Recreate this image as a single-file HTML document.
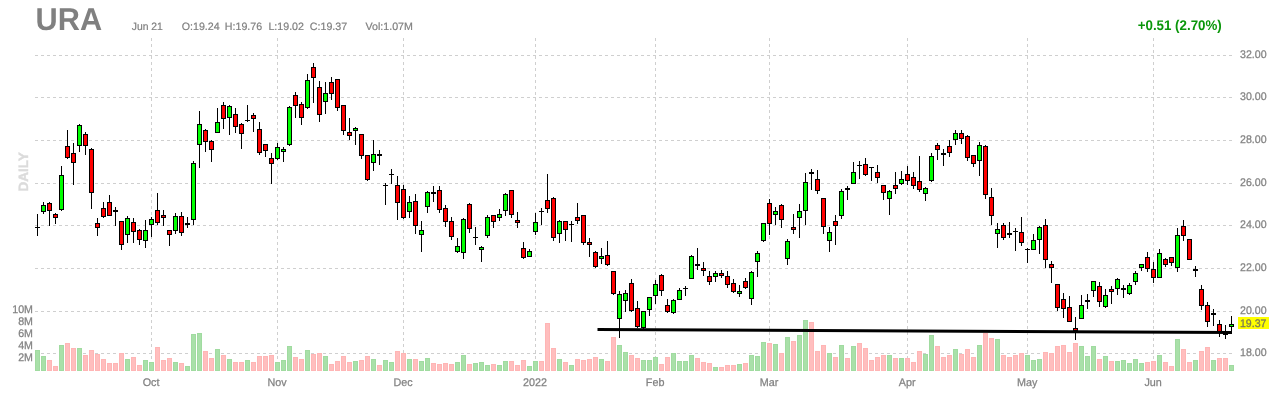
<!DOCTYPE html>
<html lang="en"><head><meta charset="utf-8"><title>URA Daily Chart</title>
<style>html,body{margin:0;padding:0;background:#fff}body{width:1280px;height:400px;overflow:hidden}svg{display:block}</style>
</head><body>
<svg width="1280" height="400" viewBox="0 0 1280 400" shape-rendering="crispEdges">
<rect width="1280" height="400" fill="#fff"/>
<g stroke="#cfcfcf" stroke-width="1" stroke-dasharray="3 3" fill="none">
<path d="M35 55.5H1233"/>
<path d="M35 97.5H1233"/>
<path d="M35 140.5H1233"/>
<path d="M35 183.5H1233"/>
<path d="M35 225.5H1233"/>
<path d="M35 268.5H1233"/>
<path d="M35 311.5H1233"/>
<path d="M35 353.5H1233"/>
<path d="M151.5 38V371"/>
<path d="M277.5 38V371"/>
<path d="M403.5 38V371"/>
<path d="M535.5 38V371"/>
<path d="M655.5 38V371"/>
<path d="M769.5 38V371"/>
<path d="M907.5 38V371"/>
<path d="M1027.5 38V371"/>
<path d="M1153.5 38V371"/>
</g>
<g>
<rect x="35" y="350" width="5" height="21" fill="#a0dba0"/>
<rect x="36" y="351" width="3" height="19" fill="#a9e0a9"/>
<rect x="41" y="356" width="5" height="15" fill="#a0dba0"/>
<rect x="42" y="357" width="3" height="13" fill="#a9e0a9"/>
<rect x="47" y="360" width="5" height="11" fill="#ffb5b5"/>
<rect x="48" y="361" width="3" height="9" fill="#ffbebe"/>
<rect x="53" y="366" width="5" height="5" fill="#ffb5b5"/>
<rect x="54" y="367" width="3" height="3" fill="#ffbebe"/>
<rect x="59" y="345" width="5" height="26" fill="#a0dba0"/>
<rect x="60" y="346" width="3" height="24" fill="#a9e0a9"/>
<rect x="65" y="343" width="5" height="28" fill="#ffb5b5"/>
<rect x="66" y="344" width="3" height="26" fill="#ffbebe"/>
<rect x="71" y="348" width="5" height="23" fill="#ffb5b5"/>
<rect x="72" y="349" width="3" height="21" fill="#ffbebe"/>
<rect x="77" y="348" width="5" height="23" fill="#a0dba0"/>
<rect x="78" y="349" width="3" height="21" fill="#a9e0a9"/>
<rect x="83" y="355" width="5" height="16" fill="#ffb5b5"/>
<rect x="84" y="356" width="3" height="14" fill="#ffbebe"/>
<rect x="89" y="350" width="5" height="21" fill="#ffb5b5"/>
<rect x="90" y="351" width="3" height="19" fill="#ffbebe"/>
<rect x="95" y="354" width="5" height="17" fill="#ffb5b5"/>
<rect x="96" y="355" width="3" height="15" fill="#ffbebe"/>
<rect x="101" y="359" width="5" height="12" fill="#ffb5b5"/>
<rect x="102" y="360" width="3" height="10" fill="#ffbebe"/>
<rect x="107" y="363" width="5" height="8" fill="#ffb5b5"/>
<rect x="108" y="364" width="3" height="6" fill="#ffbebe"/>
<rect x="113" y="363" width="5" height="8" fill="#ffb5b5"/>
<rect x="114" y="364" width="3" height="6" fill="#ffbebe"/>
<rect x="119" y="353" width="5" height="18" fill="#ffb5b5"/>
<rect x="120" y="354" width="3" height="16" fill="#ffbebe"/>
<rect x="125" y="359" width="5" height="12" fill="#a0dba0"/>
<rect x="126" y="360" width="3" height="10" fill="#a9e0a9"/>
<rect x="131" y="357" width="5" height="14" fill="#ffb5b5"/>
<rect x="132" y="358" width="3" height="12" fill="#ffbebe"/>
<rect x="137" y="365" width="5" height="6" fill="#ffb5b5"/>
<rect x="138" y="366" width="3" height="4" fill="#ffbebe"/>
<rect x="143" y="360" width="5" height="11" fill="#a0dba0"/>
<rect x="144" y="361" width="3" height="9" fill="#a9e0a9"/>
<rect x="149" y="362" width="5" height="9" fill="#a0dba0"/>
<rect x="150" y="363" width="3" height="7" fill="#a9e0a9"/>
<rect x="155" y="347" width="5" height="24" fill="#ffb5b5"/>
<rect x="156" y="348" width="3" height="22" fill="#ffbebe"/>
<rect x="161" y="360" width="5" height="11" fill="#ffb5b5"/>
<rect x="162" y="361" width="3" height="9" fill="#ffbebe"/>
<rect x="167" y="358" width="5" height="13" fill="#ffb5b5"/>
<rect x="168" y="359" width="3" height="11" fill="#ffbebe"/>
<rect x="173" y="362" width="5" height="9" fill="#a0dba0"/>
<rect x="174" y="363" width="3" height="7" fill="#a9e0a9"/>
<rect x="179" y="363" width="5" height="8" fill="#ffb5b5"/>
<rect x="180" y="364" width="3" height="6" fill="#ffbebe"/>
<rect x="185" y="366" width="5" height="5" fill="#a0dba0"/>
<rect x="186" y="367" width="3" height="3" fill="#a9e0a9"/>
<rect x="191" y="334" width="5" height="37" fill="#a0dba0"/>
<rect x="192" y="335" width="3" height="35" fill="#a9e0a9"/>
<rect x="197" y="333" width="5" height="38" fill="#a0dba0"/>
<rect x="198" y="334" width="3" height="36" fill="#a9e0a9"/>
<rect x="203" y="351" width="5" height="20" fill="#ffb5b5"/>
<rect x="204" y="352" width="3" height="18" fill="#ffbebe"/>
<rect x="209" y="358" width="5" height="13" fill="#ffb5b5"/>
<rect x="210" y="359" width="3" height="11" fill="#ffbebe"/>
<rect x="215" y="349" width="5" height="22" fill="#a0dba0"/>
<rect x="216" y="350" width="3" height="20" fill="#a9e0a9"/>
<rect x="221" y="355" width="5" height="16" fill="#ffb5b5"/>
<rect x="222" y="356" width="3" height="14" fill="#ffbebe"/>
<rect x="227" y="359" width="5" height="12" fill="#a0dba0"/>
<rect x="228" y="360" width="3" height="10" fill="#a9e0a9"/>
<rect x="233" y="362" width="5" height="9" fill="#ffb5b5"/>
<rect x="234" y="363" width="3" height="7" fill="#ffbebe"/>
<rect x="239" y="362" width="5" height="9" fill="#ffb5b5"/>
<rect x="240" y="363" width="3" height="7" fill="#ffbebe"/>
<rect x="245" y="360" width="5" height="11" fill="#a0dba0"/>
<rect x="246" y="361" width="3" height="9" fill="#a9e0a9"/>
<rect x="251" y="362" width="5" height="9" fill="#ffb5b5"/>
<rect x="252" y="363" width="3" height="7" fill="#ffbebe"/>
<rect x="257" y="356" width="5" height="15" fill="#ffb5b5"/>
<rect x="258" y="357" width="3" height="13" fill="#ffbebe"/>
<rect x="263" y="356" width="5" height="15" fill="#ffb5b5"/>
<rect x="264" y="357" width="3" height="13" fill="#ffbebe"/>
<rect x="269" y="355" width="5" height="16" fill="#ffb5b5"/>
<rect x="270" y="356" width="3" height="14" fill="#ffbebe"/>
<rect x="275" y="362" width="5" height="9" fill="#a0dba0"/>
<rect x="276" y="363" width="3" height="7" fill="#a9e0a9"/>
<rect x="281" y="360" width="5" height="11" fill="#a0dba0"/>
<rect x="282" y="361" width="3" height="9" fill="#a9e0a9"/>
<rect x="287" y="346" width="5" height="25" fill="#a0dba0"/>
<rect x="288" y="347" width="3" height="23" fill="#a9e0a9"/>
<rect x="293" y="357" width="5" height="14" fill="#ffb5b5"/>
<rect x="294" y="358" width="3" height="12" fill="#ffbebe"/>
<rect x="299" y="359" width="5" height="12" fill="#ffb5b5"/>
<rect x="300" y="360" width="3" height="10" fill="#ffbebe"/>
<rect x="305" y="350" width="5" height="21" fill="#a0dba0"/>
<rect x="306" y="351" width="3" height="19" fill="#a9e0a9"/>
<rect x="311" y="354" width="5" height="17" fill="#ffb5b5"/>
<rect x="312" y="355" width="3" height="15" fill="#ffbebe"/>
<rect x="317" y="353" width="5" height="18" fill="#ffb5b5"/>
<rect x="318" y="354" width="3" height="16" fill="#ffbebe"/>
<rect x="323" y="356" width="5" height="15" fill="#a0dba0"/>
<rect x="324" y="357" width="3" height="13" fill="#a9e0a9"/>
<rect x="329" y="364" width="5" height="7" fill="#ffb5b5"/>
<rect x="330" y="365" width="3" height="5" fill="#ffbebe"/>
<rect x="335" y="361" width="5" height="10" fill="#ffb5b5"/>
<rect x="336" y="362" width="3" height="8" fill="#ffbebe"/>
<rect x="341" y="356" width="5" height="15" fill="#ffb5b5"/>
<rect x="342" y="357" width="3" height="13" fill="#ffbebe"/>
<rect x="347" y="362" width="5" height="9" fill="#ffb5b5"/>
<rect x="348" y="363" width="3" height="7" fill="#ffbebe"/>
<rect x="353" y="361" width="5" height="10" fill="#a0dba0"/>
<rect x="354" y="362" width="3" height="8" fill="#a9e0a9"/>
<rect x="359" y="360" width="5" height="11" fill="#ffb5b5"/>
<rect x="360" y="361" width="3" height="9" fill="#ffbebe"/>
<rect x="365" y="356" width="5" height="15" fill="#ffb5b5"/>
<rect x="366" y="357" width="3" height="13" fill="#ffbebe"/>
<rect x="371" y="359" width="5" height="12" fill="#a0dba0"/>
<rect x="372" y="360" width="3" height="10" fill="#a9e0a9"/>
<rect x="377" y="365" width="5" height="6" fill="#ffb5b5"/>
<rect x="378" y="366" width="3" height="4" fill="#ffbebe"/>
<rect x="383" y="360" width="5" height="11" fill="#a0dba0"/>
<rect x="384" y="361" width="3" height="9" fill="#a9e0a9"/>
<rect x="389" y="362" width="5" height="9" fill="#a0dba0"/>
<rect x="390" y="363" width="3" height="7" fill="#a9e0a9"/>
<rect x="395" y="351" width="5" height="20" fill="#ffb5b5"/>
<rect x="396" y="352" width="3" height="18" fill="#ffbebe"/>
<rect x="401" y="353" width="5" height="18" fill="#ffb5b5"/>
<rect x="402" y="354" width="3" height="16" fill="#ffbebe"/>
<rect x="407" y="359" width="5" height="12" fill="#a0dba0"/>
<rect x="408" y="360" width="3" height="10" fill="#a9e0a9"/>
<rect x="413" y="359" width="5" height="12" fill="#ffb5b5"/>
<rect x="414" y="360" width="3" height="10" fill="#ffbebe"/>
<rect x="419" y="361" width="5" height="10" fill="#a0dba0"/>
<rect x="420" y="362" width="3" height="8" fill="#a9e0a9"/>
<rect x="425" y="358" width="5" height="13" fill="#a0dba0"/>
<rect x="426" y="359" width="3" height="11" fill="#a9e0a9"/>
<rect x="431" y="363" width="5" height="8" fill="#ffb5b5"/>
<rect x="432" y="364" width="3" height="6" fill="#ffbebe"/>
<rect x="437" y="364" width="5" height="7" fill="#ffb5b5"/>
<rect x="438" y="365" width="3" height="5" fill="#ffbebe"/>
<rect x="443" y="363" width="5" height="8" fill="#ffb5b5"/>
<rect x="444" y="364" width="3" height="6" fill="#ffbebe"/>
<rect x="449" y="364" width="5" height="7" fill="#ffb5b5"/>
<rect x="450" y="365" width="3" height="5" fill="#ffbebe"/>
<rect x="455" y="362" width="5" height="9" fill="#a0dba0"/>
<rect x="456" y="363" width="3" height="7" fill="#a9e0a9"/>
<rect x="461" y="355" width="5" height="16" fill="#a0dba0"/>
<rect x="462" y="356" width="3" height="14" fill="#a9e0a9"/>
<rect x="467" y="364" width="5" height="7" fill="#ffb5b5"/>
<rect x="468" y="365" width="3" height="5" fill="#ffbebe"/>
<rect x="473" y="363" width="5" height="8" fill="#a0dba0"/>
<rect x="474" y="364" width="3" height="6" fill="#a9e0a9"/>
<rect x="479" y="362" width="5" height="9" fill="#a0dba0"/>
<rect x="480" y="363" width="3" height="7" fill="#a9e0a9"/>
<rect x="485" y="365" width="5" height="6" fill="#a0dba0"/>
<rect x="486" y="366" width="3" height="4" fill="#a9e0a9"/>
<rect x="491" y="364" width="5" height="7" fill="#ffb5b5"/>
<rect x="492" y="365" width="3" height="5" fill="#ffbebe"/>
<rect x="497" y="365" width="5" height="6" fill="#a0dba0"/>
<rect x="498" y="366" width="3" height="4" fill="#a9e0a9"/>
<rect x="503" y="361" width="5" height="10" fill="#a0dba0"/>
<rect x="504" y="362" width="3" height="8" fill="#a9e0a9"/>
<rect x="509" y="361" width="5" height="10" fill="#ffb5b5"/>
<rect x="510" y="362" width="3" height="8" fill="#ffbebe"/>
<rect x="515" y="365" width="5" height="6" fill="#ffb5b5"/>
<rect x="516" y="366" width="3" height="4" fill="#ffbebe"/>
<rect x="521" y="360" width="5" height="11" fill="#ffb5b5"/>
<rect x="522" y="361" width="3" height="9" fill="#ffbebe"/>
<rect x="527" y="366" width="5" height="5" fill="#a0dba0"/>
<rect x="528" y="367" width="3" height="3" fill="#a9e0a9"/>
<rect x="533" y="361" width="5" height="10" fill="#a0dba0"/>
<rect x="534" y="362" width="3" height="8" fill="#a9e0a9"/>
<rect x="539" y="361" width="5" height="10" fill="#ffb5b5"/>
<rect x="540" y="362" width="3" height="8" fill="#ffbebe"/>
<rect x="545" y="323" width="5" height="48" fill="#ffb5b5"/>
<rect x="546" y="324" width="3" height="46" fill="#ffbebe"/>
<rect x="551" y="348" width="5" height="23" fill="#ffb5b5"/>
<rect x="552" y="349" width="3" height="21" fill="#ffbebe"/>
<rect x="557" y="359" width="5" height="12" fill="#a0dba0"/>
<rect x="558" y="360" width="3" height="10" fill="#a9e0a9"/>
<rect x="563" y="362" width="5" height="9" fill="#ffb5b5"/>
<rect x="564" y="363" width="3" height="7" fill="#ffbebe"/>
<rect x="569" y="365" width="5" height="6" fill="#a0dba0"/>
<rect x="570" y="366" width="3" height="4" fill="#a9e0a9"/>
<rect x="575" y="359" width="5" height="12" fill="#ffb5b5"/>
<rect x="576" y="360" width="3" height="10" fill="#ffbebe"/>
<rect x="581" y="360" width="5" height="11" fill="#ffb5b5"/>
<rect x="582" y="361" width="3" height="9" fill="#ffbebe"/>
<rect x="587" y="359" width="5" height="12" fill="#ffb5b5"/>
<rect x="588" y="360" width="3" height="10" fill="#ffbebe"/>
<rect x="593" y="357" width="5" height="14" fill="#ffb5b5"/>
<rect x="594" y="358" width="3" height="12" fill="#ffbebe"/>
<rect x="599" y="359" width="5" height="12" fill="#a0dba0"/>
<rect x="600" y="360" width="3" height="10" fill="#a9e0a9"/>
<rect x="605" y="361" width="5" height="10" fill="#ffb5b5"/>
<rect x="606" y="362" width="3" height="8" fill="#ffbebe"/>
<rect x="611" y="337" width="5" height="34" fill="#ffb5b5"/>
<rect x="612" y="338" width="3" height="32" fill="#ffbebe"/>
<rect x="617" y="345" width="5" height="26" fill="#a0dba0"/>
<rect x="618" y="346" width="3" height="24" fill="#a9e0a9"/>
<rect x="623" y="352" width="5" height="19" fill="#a0dba0"/>
<rect x="624" y="353" width="3" height="17" fill="#a9e0a9"/>
<rect x="629" y="355" width="5" height="16" fill="#ffb5b5"/>
<rect x="630" y="356" width="3" height="14" fill="#ffbebe"/>
<rect x="635" y="358" width="5" height="13" fill="#ffb5b5"/>
<rect x="636" y="359" width="3" height="11" fill="#ffbebe"/>
<rect x="641" y="360" width="5" height="11" fill="#a0dba0"/>
<rect x="642" y="361" width="3" height="9" fill="#a9e0a9"/>
<rect x="647" y="360" width="5" height="11" fill="#a0dba0"/>
<rect x="648" y="361" width="3" height="9" fill="#a9e0a9"/>
<rect x="653" y="357" width="5" height="14" fill="#a0dba0"/>
<rect x="654" y="358" width="3" height="12" fill="#a9e0a9"/>
<rect x="659" y="364" width="5" height="7" fill="#ffb5b5"/>
<rect x="660" y="365" width="3" height="5" fill="#ffbebe"/>
<rect x="665" y="357" width="5" height="14" fill="#ffb5b5"/>
<rect x="666" y="358" width="3" height="12" fill="#ffbebe"/>
<rect x="671" y="353" width="5" height="18" fill="#a0dba0"/>
<rect x="672" y="354" width="3" height="16" fill="#a9e0a9"/>
<rect x="677" y="361" width="5" height="10" fill="#a0dba0"/>
<rect x="678" y="362" width="3" height="8" fill="#a9e0a9"/>
<rect x="683" y="361" width="5" height="10" fill="#a0dba0"/>
<rect x="684" y="362" width="3" height="8" fill="#a9e0a9"/>
<rect x="689" y="355" width="5" height="16" fill="#a0dba0"/>
<rect x="690" y="356" width="3" height="14" fill="#a9e0a9"/>
<rect x="695" y="358" width="5" height="13" fill="#ffb5b5"/>
<rect x="696" y="359" width="3" height="11" fill="#ffbebe"/>
<rect x="701" y="362" width="5" height="9" fill="#ffb5b5"/>
<rect x="702" y="363" width="3" height="7" fill="#ffbebe"/>
<rect x="707" y="363" width="5" height="8" fill="#ffb5b5"/>
<rect x="708" y="364" width="3" height="6" fill="#ffbebe"/>
<rect x="713" y="367" width="5" height="4" fill="#a0dba0"/>
<rect x="714" y="368" width="3" height="2" fill="#a9e0a9"/>
<rect x="719" y="367" width="5" height="4" fill="#ffb5b5"/>
<rect x="720" y="368" width="3" height="2" fill="#ffbebe"/>
<rect x="725" y="365" width="5" height="6" fill="#ffb5b5"/>
<rect x="726" y="366" width="3" height="4" fill="#ffbebe"/>
<rect x="731" y="365" width="5" height="6" fill="#ffb5b5"/>
<rect x="732" y="366" width="3" height="4" fill="#ffbebe"/>
<rect x="737" y="364" width="5" height="7" fill="#a0dba0"/>
<rect x="738" y="365" width="3" height="5" fill="#a9e0a9"/>
<rect x="743" y="363" width="5" height="8" fill="#ffb5b5"/>
<rect x="744" y="364" width="3" height="6" fill="#ffbebe"/>
<rect x="749" y="355" width="5" height="16" fill="#a0dba0"/>
<rect x="750" y="356" width="3" height="14" fill="#a9e0a9"/>
<rect x="755" y="356" width="5" height="15" fill="#a0dba0"/>
<rect x="756" y="357" width="3" height="13" fill="#a9e0a9"/>
<rect x="761" y="342" width="5" height="29" fill="#a0dba0"/>
<rect x="762" y="343" width="3" height="27" fill="#a9e0a9"/>
<rect x="767" y="343" width="5" height="28" fill="#ffb5b5"/>
<rect x="768" y="344" width="3" height="26" fill="#ffbebe"/>
<rect x="773" y="344" width="5" height="27" fill="#a0dba0"/>
<rect x="774" y="345" width="3" height="25" fill="#a9e0a9"/>
<rect x="779" y="353" width="5" height="18" fill="#ffb5b5"/>
<rect x="780" y="354" width="3" height="16" fill="#ffbebe"/>
<rect x="785" y="337" width="5" height="34" fill="#a0dba0"/>
<rect x="786" y="338" width="3" height="32" fill="#a9e0a9"/>
<rect x="791" y="341" width="5" height="30" fill="#ffb5b5"/>
<rect x="792" y="342" width="3" height="28" fill="#ffbebe"/>
<rect x="797" y="335" width="5" height="36" fill="#a0dba0"/>
<rect x="798" y="336" width="3" height="34" fill="#a9e0a9"/>
<rect x="803" y="320" width="5" height="51" fill="#a0dba0"/>
<rect x="804" y="321" width="3" height="49" fill="#a9e0a9"/>
<rect x="809" y="322" width="5" height="49" fill="#ffb5b5"/>
<rect x="810" y="323" width="3" height="47" fill="#ffbebe"/>
<rect x="815" y="351" width="5" height="20" fill="#ffb5b5"/>
<rect x="816" y="352" width="3" height="18" fill="#ffbebe"/>
<rect x="821" y="345" width="5" height="26" fill="#ffb5b5"/>
<rect x="822" y="346" width="3" height="24" fill="#ffbebe"/>
<rect x="827" y="353" width="5" height="18" fill="#a0dba0"/>
<rect x="828" y="354" width="3" height="16" fill="#a9e0a9"/>
<rect x="833" y="357" width="5" height="14" fill="#ffb5b5"/>
<rect x="834" y="358" width="3" height="12" fill="#ffbebe"/>
<rect x="839" y="345" width="5" height="26" fill="#a0dba0"/>
<rect x="840" y="346" width="3" height="24" fill="#a9e0a9"/>
<rect x="845" y="358" width="5" height="13" fill="#ffb5b5"/>
<rect x="846" y="359" width="3" height="11" fill="#ffbebe"/>
<rect x="851" y="346" width="5" height="25" fill="#a0dba0"/>
<rect x="852" y="347" width="3" height="23" fill="#a9e0a9"/>
<rect x="857" y="343" width="5" height="28" fill="#ffb5b5"/>
<rect x="858" y="344" width="3" height="26" fill="#ffbebe"/>
<rect x="863" y="348" width="5" height="23" fill="#ffb5b5"/>
<rect x="864" y="349" width="3" height="21" fill="#ffbebe"/>
<rect x="869" y="360" width="5" height="11" fill="#ffb5b5"/>
<rect x="870" y="361" width="3" height="9" fill="#ffbebe"/>
<rect x="875" y="357" width="5" height="14" fill="#ffb5b5"/>
<rect x="876" y="358" width="3" height="12" fill="#ffbebe"/>
<rect x="881" y="355" width="5" height="16" fill="#ffb5b5"/>
<rect x="882" y="356" width="3" height="14" fill="#ffbebe"/>
<rect x="887" y="355" width="5" height="16" fill="#a0dba0"/>
<rect x="888" y="356" width="3" height="14" fill="#a9e0a9"/>
<rect x="893" y="358" width="5" height="13" fill="#ffb5b5"/>
<rect x="894" y="359" width="3" height="11" fill="#ffbebe"/>
<rect x="899" y="358" width="5" height="13" fill="#a0dba0"/>
<rect x="900" y="359" width="3" height="11" fill="#a9e0a9"/>
<rect x="905" y="358" width="5" height="13" fill="#ffb5b5"/>
<rect x="906" y="359" width="3" height="11" fill="#ffbebe"/>
<rect x="911" y="362" width="5" height="9" fill="#ffb5b5"/>
<rect x="912" y="363" width="3" height="7" fill="#ffbebe"/>
<rect x="917" y="351" width="5" height="20" fill="#ffb5b5"/>
<rect x="918" y="352" width="3" height="18" fill="#ffbebe"/>
<rect x="923" y="354" width="5" height="17" fill="#a0dba0"/>
<rect x="924" y="355" width="3" height="15" fill="#a9e0a9"/>
<rect x="929" y="335" width="5" height="36" fill="#a0dba0"/>
<rect x="930" y="336" width="3" height="34" fill="#a9e0a9"/>
<rect x="935" y="346" width="5" height="25" fill="#ffb5b5"/>
<rect x="936" y="347" width="3" height="23" fill="#ffbebe"/>
<rect x="941" y="357" width="5" height="14" fill="#ffb5b5"/>
<rect x="942" y="358" width="3" height="12" fill="#ffbebe"/>
<rect x="947" y="355" width="5" height="16" fill="#ffb5b5"/>
<rect x="948" y="356" width="3" height="14" fill="#ffbebe"/>
<rect x="953" y="349" width="5" height="22" fill="#a0dba0"/>
<rect x="954" y="350" width="3" height="20" fill="#a9e0a9"/>
<rect x="959" y="354" width="5" height="17" fill="#ffb5b5"/>
<rect x="960" y="355" width="3" height="15" fill="#ffbebe"/>
<rect x="965" y="349" width="5" height="22" fill="#ffb5b5"/>
<rect x="966" y="350" width="3" height="20" fill="#ffbebe"/>
<rect x="971" y="357" width="5" height="14" fill="#ffb5b5"/>
<rect x="972" y="358" width="3" height="12" fill="#ffbebe"/>
<rect x="977" y="345" width="5" height="26" fill="#a0dba0"/>
<rect x="978" y="346" width="3" height="24" fill="#a9e0a9"/>
<rect x="983" y="333" width="5" height="38" fill="#ffb5b5"/>
<rect x="984" y="334" width="3" height="36" fill="#ffbebe"/>
<rect x="989" y="338" width="5" height="33" fill="#ffb5b5"/>
<rect x="990" y="339" width="3" height="31" fill="#ffbebe"/>
<rect x="995" y="339" width="5" height="32" fill="#a0dba0"/>
<rect x="996" y="340" width="3" height="30" fill="#a9e0a9"/>
<rect x="1001" y="355" width="5" height="16" fill="#ffb5b5"/>
<rect x="1002" y="356" width="3" height="14" fill="#ffbebe"/>
<rect x="1007" y="357" width="5" height="14" fill="#ffb5b5"/>
<rect x="1008" y="358" width="3" height="12" fill="#ffbebe"/>
<rect x="1013" y="355" width="5" height="16" fill="#ffb5b5"/>
<rect x="1014" y="356" width="3" height="14" fill="#ffbebe"/>
<rect x="1019" y="353" width="5" height="18" fill="#ffb5b5"/>
<rect x="1020" y="354" width="3" height="16" fill="#ffbebe"/>
<rect x="1025" y="355" width="5" height="16" fill="#a0dba0"/>
<rect x="1026" y="356" width="3" height="14" fill="#a9e0a9"/>
<rect x="1031" y="360" width="5" height="11" fill="#a0dba0"/>
<rect x="1032" y="361" width="3" height="9" fill="#a9e0a9"/>
<rect x="1037" y="359" width="5" height="12" fill="#a0dba0"/>
<rect x="1038" y="360" width="3" height="10" fill="#a9e0a9"/>
<rect x="1043" y="352" width="5" height="19" fill="#ffb5b5"/>
<rect x="1044" y="353" width="3" height="17" fill="#ffbebe"/>
<rect x="1049" y="353" width="5" height="18" fill="#ffb5b5"/>
<rect x="1050" y="354" width="3" height="16" fill="#ffbebe"/>
<rect x="1055" y="346" width="5" height="25" fill="#ffb5b5"/>
<rect x="1056" y="347" width="3" height="23" fill="#ffbebe"/>
<rect x="1061" y="345" width="5" height="26" fill="#ffb5b5"/>
<rect x="1062" y="346" width="3" height="24" fill="#ffbebe"/>
<rect x="1067" y="352" width="5" height="19" fill="#ffb5b5"/>
<rect x="1068" y="353" width="3" height="17" fill="#ffbebe"/>
<rect x="1073" y="343" width="5" height="28" fill="#ffb5b5"/>
<rect x="1074" y="344" width="3" height="26" fill="#ffbebe"/>
<rect x="1079" y="346" width="5" height="25" fill="#a0dba0"/>
<rect x="1080" y="347" width="3" height="23" fill="#a9e0a9"/>
<rect x="1085" y="356" width="5" height="15" fill="#a0dba0"/>
<rect x="1086" y="357" width="3" height="13" fill="#a9e0a9"/>
<rect x="1091" y="346" width="5" height="25" fill="#a0dba0"/>
<rect x="1092" y="347" width="3" height="23" fill="#a9e0a9"/>
<rect x="1097" y="359" width="5" height="12" fill="#ffb5b5"/>
<rect x="1098" y="360" width="3" height="10" fill="#ffbebe"/>
<rect x="1103" y="356" width="5" height="15" fill="#a0dba0"/>
<rect x="1104" y="357" width="3" height="13" fill="#a9e0a9"/>
<rect x="1109" y="361" width="5" height="10" fill="#ffb5b5"/>
<rect x="1110" y="362" width="3" height="8" fill="#ffbebe"/>
<rect x="1115" y="361" width="5" height="10" fill="#a0dba0"/>
<rect x="1116" y="362" width="3" height="8" fill="#a9e0a9"/>
<rect x="1121" y="360" width="5" height="11" fill="#a0dba0"/>
<rect x="1122" y="361" width="3" height="9" fill="#a9e0a9"/>
<rect x="1127" y="363" width="5" height="8" fill="#a0dba0"/>
<rect x="1128" y="364" width="3" height="6" fill="#a9e0a9"/>
<rect x="1133" y="359" width="5" height="12" fill="#a0dba0"/>
<rect x="1134" y="360" width="3" height="10" fill="#a9e0a9"/>
<rect x="1139" y="363" width="5" height="8" fill="#a0dba0"/>
<rect x="1140" y="364" width="3" height="6" fill="#a9e0a9"/>
<rect x="1145" y="362" width="5" height="9" fill="#ffb5b5"/>
<rect x="1146" y="363" width="3" height="7" fill="#ffbebe"/>
<rect x="1151" y="361" width="5" height="10" fill="#ffb5b5"/>
<rect x="1152" y="362" width="3" height="8" fill="#ffbebe"/>
<rect x="1157" y="355" width="5" height="16" fill="#a0dba0"/>
<rect x="1158" y="356" width="3" height="14" fill="#a9e0a9"/>
<rect x="1163" y="362" width="5" height="9" fill="#ffb5b5"/>
<rect x="1164" y="363" width="3" height="7" fill="#ffbebe"/>
<rect x="1169" y="366" width="5" height="5" fill="#ffb5b5"/>
<rect x="1170" y="367" width="3" height="3" fill="#ffbebe"/>
<rect x="1175" y="339" width="5" height="32" fill="#a0dba0"/>
<rect x="1176" y="340" width="3" height="30" fill="#a9e0a9"/>
<rect x="1181" y="349" width="5" height="22" fill="#ffb5b5"/>
<rect x="1182" y="350" width="3" height="20" fill="#ffbebe"/>
<rect x="1187" y="362" width="5" height="9" fill="#ffb5b5"/>
<rect x="1188" y="363" width="3" height="7" fill="#ffbebe"/>
<rect x="1193" y="360" width="5" height="11" fill="#a0dba0"/>
<rect x="1194" y="361" width="3" height="9" fill="#a9e0a9"/>
<rect x="1199" y="351" width="5" height="20" fill="#ffb5b5"/>
<rect x="1200" y="352" width="3" height="18" fill="#ffbebe"/>
<rect x="1205" y="347" width="5" height="24" fill="#ffb5b5"/>
<rect x="1206" y="348" width="3" height="22" fill="#ffbebe"/>
<rect x="1211" y="360" width="5" height="11" fill="#a0dba0"/>
<rect x="1212" y="361" width="3" height="9" fill="#a9e0a9"/>
<rect x="1217" y="358" width="5" height="13" fill="#ffb5b5"/>
<rect x="1218" y="359" width="3" height="11" fill="#ffbebe"/>
<rect x="1223" y="358" width="5" height="13" fill="#ffb5b5"/>
<rect x="1224" y="359" width="3" height="11" fill="#ffbebe"/>
<rect x="1229" y="365" width="5" height="6" fill="#a0dba0"/>
<rect x="1230" y="366" width="3" height="4" fill="#a9e0a9"/>
</g>
<g>
<rect x="37" y="214" width="1" height="22" fill="#000"/>
<rect x="35" y="227" width="5" height="1" fill="#000"/>
<rect x="43" y="202" width="1" height="12" fill="#000"/>
<rect x="41" y="205" width="5" height="7" fill="#000"/>
<rect x="42" y="206" width="3" height="5" fill="#00ff00"/>
<rect x="49" y="202" width="1" height="24" fill="#000"/>
<rect x="47" y="203" width="5" height="8" fill="#000"/>
<rect x="48" y="204" width="3" height="6" fill="#ff0000"/>
<rect x="55" y="213" width="1" height="11" fill="#000"/>
<rect x="53" y="214" width="5" height="4" fill="#000"/>
<rect x="54" y="215" width="3" height="2" fill="#ff0000"/>
<rect x="61" y="166" width="1" height="45" fill="#000"/>
<rect x="59" y="175" width="5" height="35" fill="#000"/>
<rect x="60" y="176" width="3" height="33" fill="#00ff00"/>
<rect x="67" y="130" width="1" height="29" fill="#000"/>
<rect x="65" y="146" width="5" height="12" fill="#000"/>
<rect x="66" y="147" width="3" height="10" fill="#ff0000"/>
<rect x="73" y="143" width="1" height="42" fill="#000"/>
<rect x="71" y="153" width="5" height="10" fill="#000"/>
<rect x="72" y="154" width="3" height="8" fill="#ff0000"/>
<rect x="79" y="124" width="1" height="28" fill="#000"/>
<rect x="77" y="125" width="5" height="21" fill="#000"/>
<rect x="78" y="126" width="3" height="19" fill="#00ff00"/>
<rect x="85" y="132" width="1" height="23" fill="#000"/>
<rect x="83" y="134" width="5" height="12" fill="#000"/>
<rect x="84" y="135" width="3" height="10" fill="#ff0000"/>
<rect x="91" y="148" width="1" height="61" fill="#000"/>
<rect x="89" y="149" width="5" height="44" fill="#000"/>
<rect x="90" y="150" width="3" height="42" fill="#ff0000"/>
<rect x="97" y="218" width="1" height="18" fill="#000"/>
<rect x="95" y="223" width="5" height="5" fill="#000"/>
<rect x="96" y="224" width="3" height="3" fill="#ff0000"/>
<rect x="103" y="202" width="1" height="16" fill="#000"/>
<rect x="101" y="208" width="5" height="9" fill="#000"/>
<rect x="102" y="209" width="3" height="7" fill="#ff0000"/>
<rect x="109" y="195" width="1" height="21" fill="#000"/>
<rect x="107" y="202" width="5" height="14" fill="#000"/>
<rect x="108" y="203" width="3" height="12" fill="#ff0000"/>
<rect x="115" y="207" width="1" height="19" fill="#000"/>
<rect x="113" y="210" width="5" height="2" fill="#000"/>
<rect x="121" y="221" width="1" height="29" fill="#000"/>
<rect x="119" y="221" width="5" height="24" fill="#000"/>
<rect x="120" y="222" width="3" height="22" fill="#ff0000"/>
<rect x="127" y="216" width="1" height="27" fill="#000"/>
<rect x="125" y="218" width="5" height="17" fill="#000"/>
<rect x="126" y="219" width="3" height="15" fill="#00ff00"/>
<rect x="133" y="218" width="1" height="25" fill="#000"/>
<rect x="131" y="222" width="5" height="10" fill="#000"/>
<rect x="132" y="223" width="3" height="8" fill="#ff0000"/>
<rect x="139" y="229" width="1" height="16" fill="#000"/>
<rect x="137" y="230" width="5" height="10" fill="#000"/>
<rect x="138" y="231" width="3" height="8" fill="#ff0000"/>
<rect x="145" y="220" width="1" height="28" fill="#000"/>
<rect x="143" y="230" width="5" height="11" fill="#000"/>
<rect x="144" y="231" width="3" height="9" fill="#00ff00"/>
<rect x="151" y="217" width="1" height="20" fill="#000"/>
<rect x="149" y="219" width="5" height="6" fill="#000"/>
<rect x="150" y="220" width="3" height="4" fill="#00ff00"/>
<rect x="157" y="193" width="1" height="32" fill="#000"/>
<rect x="155" y="210" width="5" height="13" fill="#000"/>
<rect x="156" y="211" width="3" height="11" fill="#ff0000"/>
<rect x="163" y="210" width="1" height="16" fill="#000"/>
<rect x="161" y="215" width="5" height="3" fill="#000"/>
<rect x="162" y="216" width="3" height="1" fill="#ff0000"/>
<rect x="169" y="230" width="1" height="16" fill="#000"/>
<rect x="167" y="230" width="5" height="5" fill="#000"/>
<rect x="168" y="231" width="3" height="3" fill="#ff0000"/>
<rect x="175" y="213" width="1" height="21" fill="#000"/>
<rect x="173" y="216" width="5" height="15" fill="#000"/>
<rect x="174" y="217" width="3" height="13" fill="#00ff00"/>
<rect x="181" y="212" width="1" height="24" fill="#000"/>
<rect x="179" y="216" width="5" height="17" fill="#000"/>
<rect x="180" y="217" width="3" height="15" fill="#ff0000"/>
<rect x="187" y="217" width="1" height="11" fill="#000"/>
<rect x="185" y="223" width="5" height="2" fill="#000"/>
<rect x="193" y="161" width="1" height="64" fill="#000"/>
<rect x="191" y="163" width="5" height="57" fill="#000"/>
<rect x="192" y="164" width="3" height="55" fill="#00ff00"/>
<rect x="199" y="111" width="1" height="57" fill="#000"/>
<rect x="197" y="124" width="5" height="21" fill="#000"/>
<rect x="198" y="125" width="3" height="19" fill="#00ff00"/>
<rect x="205" y="129" width="1" height="23" fill="#000"/>
<rect x="203" y="130" width="5" height="12" fill="#000"/>
<rect x="204" y="131" width="3" height="10" fill="#ff0000"/>
<rect x="211" y="140" width="1" height="22" fill="#000"/>
<rect x="209" y="141" width="5" height="9" fill="#000"/>
<rect x="210" y="142" width="3" height="7" fill="#ff0000"/>
<rect x="217" y="108" width="1" height="25" fill="#000"/>
<rect x="215" y="122" width="5" height="11" fill="#000"/>
<rect x="216" y="123" width="3" height="9" fill="#00ff00"/>
<rect x="223" y="102" width="1" height="27" fill="#000"/>
<rect x="221" y="105" width="5" height="14" fill="#000"/>
<rect x="222" y="106" width="3" height="12" fill="#ff0000"/>
<rect x="229" y="105" width="1" height="30" fill="#000"/>
<rect x="227" y="106" width="5" height="12" fill="#000"/>
<rect x="228" y="107" width="3" height="10" fill="#00ff00"/>
<rect x="235" y="108" width="1" height="25" fill="#000"/>
<rect x="233" y="114" width="5" height="13" fill="#000"/>
<rect x="234" y="115" width="3" height="11" fill="#ff0000"/>
<rect x="241" y="123" width="1" height="26" fill="#000"/>
<rect x="239" y="124" width="5" height="10" fill="#000"/>
<rect x="240" y="125" width="3" height="8" fill="#ff0000"/>
<rect x="247" y="105" width="1" height="17" fill="#000"/>
<rect x="245" y="120" width="5" height="1" fill="#000"/>
<rect x="253" y="113" width="1" height="19" fill="#000"/>
<rect x="251" y="115" width="5" height="4" fill="#000"/>
<rect x="252" y="116" width="3" height="2" fill="#ff0000"/>
<rect x="259" y="122" width="1" height="33" fill="#000"/>
<rect x="257" y="129" width="5" height="24" fill="#000"/>
<rect x="258" y="130" width="3" height="22" fill="#ff0000"/>
<rect x="265" y="144" width="1" height="13" fill="#000"/>
<rect x="263" y="144" width="5" height="7" fill="#000"/>
<rect x="264" y="145" width="3" height="5" fill="#ff0000"/>
<rect x="271" y="153" width="1" height="31" fill="#000"/>
<rect x="269" y="158" width="5" height="6" fill="#000"/>
<rect x="270" y="159" width="3" height="4" fill="#ff0000"/>
<rect x="277" y="143" width="1" height="17" fill="#000"/>
<rect x="275" y="147" width="5" height="12" fill="#000"/>
<rect x="276" y="148" width="3" height="10" fill="#00ff00"/>
<rect x="283" y="147" width="1" height="15" fill="#000"/>
<rect x="281" y="149" width="5" height="3" fill="#000"/>
<rect x="282" y="150" width="3" height="1" fill="#00ff00"/>
<rect x="289" y="106" width="1" height="40" fill="#000"/>
<rect x="287" y="107" width="5" height="38" fill="#000"/>
<rect x="288" y="108" width="3" height="36" fill="#00ff00"/>
<rect x="295" y="92" width="1" height="26" fill="#000"/>
<rect x="293" y="95" width="5" height="11" fill="#000"/>
<rect x="294" y="96" width="3" height="9" fill="#ff0000"/>
<rect x="301" y="102" width="1" height="23" fill="#000"/>
<rect x="299" y="104" width="5" height="14" fill="#000"/>
<rect x="300" y="105" width="3" height="12" fill="#ff0000"/>
<rect x="307" y="74" width="1" height="35" fill="#000"/>
<rect x="305" y="80" width="5" height="28" fill="#000"/>
<rect x="306" y="81" width="3" height="26" fill="#00ff00"/>
<rect x="313" y="63" width="1" height="40" fill="#000"/>
<rect x="311" y="67" width="5" height="11" fill="#000"/>
<rect x="312" y="68" width="3" height="9" fill="#ff0000"/>
<rect x="319" y="81" width="1" height="41" fill="#000"/>
<rect x="317" y="87" width="5" height="28" fill="#000"/>
<rect x="318" y="88" width="3" height="26" fill="#ff0000"/>
<rect x="325" y="82" width="1" height="32" fill="#000"/>
<rect x="323" y="93" width="5" height="9" fill="#000"/>
<rect x="324" y="94" width="3" height="7" fill="#00ff00"/>
<rect x="331" y="77" width="1" height="23" fill="#000"/>
<rect x="329" y="82" width="5" height="12" fill="#000"/>
<rect x="330" y="83" width="3" height="10" fill="#ff0000"/>
<rect x="337" y="79" width="1" height="32" fill="#000"/>
<rect x="335" y="79" width="5" height="29" fill="#000"/>
<rect x="336" y="80" width="3" height="27" fill="#ff0000"/>
<rect x="343" y="105" width="1" height="30" fill="#000"/>
<rect x="341" y="105" width="5" height="26" fill="#000"/>
<rect x="342" y="106" width="3" height="24" fill="#ff0000"/>
<rect x="349" y="118" width="1" height="22" fill="#000"/>
<rect x="347" y="132" width="5" height="4" fill="#000"/>
<rect x="348" y="133" width="3" height="2" fill="#ff0000"/>
<rect x="355" y="127" width="1" height="18" fill="#000"/>
<rect x="353" y="128" width="5" height="3" fill="#000"/>
<rect x="354" y="129" width="3" height="1" fill="#00ff00"/>
<rect x="361" y="134" width="1" height="25" fill="#000"/>
<rect x="359" y="134" width="5" height="22" fill="#000"/>
<rect x="360" y="135" width="3" height="20" fill="#ff0000"/>
<rect x="367" y="155" width="1" height="26" fill="#000"/>
<rect x="365" y="155" width="5" height="25" fill="#000"/>
<rect x="366" y="156" width="3" height="23" fill="#ff0000"/>
<rect x="373" y="140" width="1" height="31" fill="#000"/>
<rect x="371" y="154" width="5" height="9" fill="#000"/>
<rect x="372" y="155" width="3" height="7" fill="#00ff00"/>
<rect x="379" y="150" width="1" height="15" fill="#000"/>
<rect x="377" y="154" width="5" height="2" fill="#000"/>
<rect x="385" y="183" width="1" height="22" fill="#000"/>
<rect x="383" y="185" width="5" height="1" fill="#000"/>
<rect x="391" y="169" width="1" height="15" fill="#000"/>
<rect x="389" y="174" width="5" height="1" fill="#000"/>
<rect x="397" y="176" width="1" height="44" fill="#000"/>
<rect x="395" y="185" width="5" height="18" fill="#000"/>
<rect x="396" y="186" width="3" height="16" fill="#ff0000"/>
<rect x="403" y="185" width="1" height="34" fill="#000"/>
<rect x="401" y="189" width="5" height="29" fill="#000"/>
<rect x="402" y="190" width="3" height="27" fill="#ff0000"/>
<rect x="409" y="196" width="1" height="22" fill="#000"/>
<rect x="407" y="202" width="5" height="10" fill="#000"/>
<rect x="408" y="203" width="3" height="8" fill="#00ff00"/>
<rect x="415" y="194" width="1" height="40" fill="#000"/>
<rect x="413" y="201" width="5" height="25" fill="#000"/>
<rect x="414" y="202" width="3" height="23" fill="#ff0000"/>
<rect x="421" y="221" width="1" height="31" fill="#000"/>
<rect x="419" y="230" width="5" height="5" fill="#000"/>
<rect x="420" y="231" width="3" height="3" fill="#00ff00"/>
<rect x="427" y="191" width="1" height="22" fill="#000"/>
<rect x="425" y="192" width="5" height="15" fill="#000"/>
<rect x="426" y="193" width="3" height="13" fill="#00ff00"/>
<rect x="433" y="186" width="1" height="16" fill="#000"/>
<rect x="431" y="192" width="5" height="2" fill="#000"/>
<rect x="439" y="186" width="1" height="27" fill="#000"/>
<rect x="437" y="190" width="5" height="20" fill="#000"/>
<rect x="438" y="191" width="3" height="18" fill="#ff0000"/>
<rect x="445" y="205" width="1" height="22" fill="#000"/>
<rect x="443" y="208" width="5" height="14" fill="#000"/>
<rect x="444" y="209" width="3" height="12" fill="#ff0000"/>
<rect x="451" y="217" width="1" height="23" fill="#000"/>
<rect x="449" y="221" width="5" height="16" fill="#000"/>
<rect x="450" y="222" width="3" height="14" fill="#ff0000"/>
<rect x="457" y="238" width="1" height="15" fill="#000"/>
<rect x="455" y="246" width="5" height="6" fill="#000"/>
<rect x="456" y="247" width="3" height="4" fill="#00ff00"/>
<rect x="463" y="218" width="1" height="41" fill="#000"/>
<rect x="461" y="219" width="5" height="34" fill="#000"/>
<rect x="462" y="220" width="3" height="32" fill="#00ff00"/>
<rect x="469" y="203" width="1" height="30" fill="#000"/>
<rect x="467" y="204" width="5" height="25" fill="#000"/>
<rect x="468" y="205" width="3" height="23" fill="#ff0000"/>
<rect x="475" y="227" width="1" height="18" fill="#000"/>
<rect x="473" y="237" width="5" height="1" fill="#000"/>
<rect x="481" y="246" width="1" height="16" fill="#000"/>
<rect x="479" y="247" width="5" height="3" fill="#000"/>
<rect x="480" y="248" width="3" height="1" fill="#00ff00"/>
<rect x="487" y="215" width="1" height="23" fill="#000"/>
<rect x="485" y="217" width="5" height="19" fill="#000"/>
<rect x="486" y="218" width="3" height="17" fill="#00ff00"/>
<rect x="493" y="215" width="1" height="13" fill="#000"/>
<rect x="491" y="215" width="5" height="7" fill="#000"/>
<rect x="492" y="216" width="3" height="5" fill="#ff0000"/>
<rect x="499" y="209" width="1" height="12" fill="#000"/>
<rect x="497" y="214" width="5" height="4" fill="#000"/>
<rect x="498" y="215" width="3" height="2" fill="#00ff00"/>
<rect x="505" y="193" width="1" height="23" fill="#000"/>
<rect x="503" y="194" width="5" height="17" fill="#000"/>
<rect x="504" y="195" width="3" height="15" fill="#00ff00"/>
<rect x="511" y="190" width="1" height="28" fill="#000"/>
<rect x="509" y="190" width="5" height="25" fill="#000"/>
<rect x="510" y="191" width="3" height="23" fill="#ff0000"/>
<rect x="517" y="212" width="1" height="16" fill="#000"/>
<rect x="515" y="220" width="5" height="3" fill="#000"/>
<rect x="516" y="221" width="3" height="1" fill="#ff0000"/>
<rect x="523" y="242" width="1" height="17" fill="#000"/>
<rect x="521" y="248" width="5" height="10" fill="#000"/>
<rect x="522" y="249" width="3" height="8" fill="#ff0000"/>
<rect x="529" y="249" width="1" height="8" fill="#000"/>
<rect x="527" y="251" width="5" height="6" fill="#000"/>
<rect x="528" y="252" width="3" height="4" fill="#00ff00"/>
<rect x="535" y="213" width="1" height="22" fill="#000"/>
<rect x="533" y="222" width="5" height="10" fill="#000"/>
<rect x="534" y="223" width="3" height="8" fill="#00ff00"/>
<rect x="541" y="208" width="1" height="17" fill="#000"/>
<rect x="539" y="211" width="5" height="1" fill="#000"/>
<rect x="547" y="174" width="1" height="39" fill="#000"/>
<rect x="545" y="200" width="5" height="9" fill="#000"/>
<rect x="546" y="201" width="3" height="7" fill="#ff0000"/>
<rect x="553" y="197" width="1" height="44" fill="#000"/>
<rect x="551" y="198" width="5" height="40" fill="#000"/>
<rect x="552" y="199" width="3" height="38" fill="#ff0000"/>
<rect x="559" y="220" width="1" height="23" fill="#000"/>
<rect x="557" y="221" width="5" height="13" fill="#000"/>
<rect x="558" y="222" width="3" height="11" fill="#00ff00"/>
<rect x="565" y="221" width="1" height="20" fill="#000"/>
<rect x="563" y="221" width="5" height="9" fill="#000"/>
<rect x="564" y="222" width="3" height="7" fill="#ff0000"/>
<rect x="571" y="221" width="1" height="21" fill="#000"/>
<rect x="569" y="224" width="5" height="1" fill="#000"/>
<rect x="577" y="203" width="1" height="21" fill="#000"/>
<rect x="575" y="217" width="5" height="4" fill="#000"/>
<rect x="576" y="218" width="3" height="2" fill="#ff0000"/>
<rect x="583" y="215" width="1" height="30" fill="#000"/>
<rect x="581" y="215" width="5" height="28" fill="#000"/>
<rect x="582" y="216" width="3" height="26" fill="#ff0000"/>
<rect x="589" y="238" width="1" height="19" fill="#000"/>
<rect x="587" y="242" width="5" height="3" fill="#000"/>
<rect x="588" y="243" width="3" height="1" fill="#ff0000"/>
<rect x="595" y="251" width="1" height="17" fill="#000"/>
<rect x="593" y="252" width="5" height="15" fill="#000"/>
<rect x="594" y="253" width="3" height="13" fill="#ff0000"/>
<rect x="601" y="248" width="1" height="16" fill="#000"/>
<rect x="599" y="256" width="5" height="3" fill="#000"/>
<rect x="600" y="257" width="3" height="1" fill="#00ff00"/>
<rect x="607" y="241" width="1" height="25" fill="#000"/>
<rect x="605" y="255" width="5" height="10" fill="#000"/>
<rect x="606" y="256" width="3" height="8" fill="#ff0000"/>
<rect x="613" y="271" width="1" height="24" fill="#000"/>
<rect x="611" y="271" width="5" height="23" fill="#000"/>
<rect x="612" y="272" width="3" height="21" fill="#ff0000"/>
<rect x="619" y="291" width="1" height="47" fill="#000"/>
<rect x="617" y="294" width="5" height="25" fill="#000"/>
<rect x="618" y="295" width="3" height="23" fill="#00ff00"/>
<rect x="625" y="290" width="1" height="22" fill="#000"/>
<rect x="623" y="293" width="5" height="8" fill="#000"/>
<rect x="624" y="294" width="3" height="6" fill="#00ff00"/>
<rect x="631" y="279" width="1" height="33" fill="#000"/>
<rect x="629" y="283" width="5" height="28" fill="#000"/>
<rect x="630" y="284" width="3" height="26" fill="#ff0000"/>
<rect x="637" y="301" width="1" height="27" fill="#000"/>
<rect x="635" y="308" width="5" height="19" fill="#000"/>
<rect x="636" y="309" width="3" height="17" fill="#ff0000"/>
<rect x="643" y="311" width="1" height="18" fill="#000"/>
<rect x="641" y="311" width="5" height="17" fill="#000"/>
<rect x="642" y="312" width="3" height="15" fill="#00ff00"/>
<rect x="649" y="297" width="1" height="19" fill="#000"/>
<rect x="647" y="297" width="5" height="13" fill="#000"/>
<rect x="648" y="298" width="3" height="11" fill="#00ff00"/>
<rect x="655" y="280" width="1" height="24" fill="#000"/>
<rect x="653" y="284" width="5" height="12" fill="#000"/>
<rect x="654" y="285" width="3" height="10" fill="#00ff00"/>
<rect x="661" y="274" width="1" height="22" fill="#000"/>
<rect x="659" y="275" width="5" height="16" fill="#000"/>
<rect x="660" y="276" width="3" height="14" fill="#ff0000"/>
<rect x="667" y="299" width="1" height="14" fill="#000"/>
<rect x="665" y="305" width="5" height="7" fill="#000"/>
<rect x="666" y="306" width="3" height="5" fill="#ff0000"/>
<rect x="673" y="299" width="1" height="15" fill="#000"/>
<rect x="671" y="300" width="5" height="13" fill="#000"/>
<rect x="672" y="301" width="3" height="11" fill="#00ff00"/>
<rect x="679" y="288" width="1" height="12" fill="#000"/>
<rect x="677" y="290" width="5" height="10" fill="#000"/>
<rect x="678" y="291" width="3" height="8" fill="#00ff00"/>
<rect x="685" y="286" width="1" height="10" fill="#000"/>
<rect x="683" y="288" width="5" height="1" fill="#000"/>
<rect x="691" y="255" width="1" height="24" fill="#000"/>
<rect x="689" y="256" width="5" height="23" fill="#000"/>
<rect x="690" y="257" width="3" height="21" fill="#00ff00"/>
<rect x="697" y="248" width="1" height="22" fill="#000"/>
<rect x="695" y="264" width="5" height="2" fill="#000"/>
<rect x="703" y="262" width="1" height="14" fill="#000"/>
<rect x="701" y="268" width="5" height="3" fill="#000"/>
<rect x="702" y="269" width="3" height="1" fill="#ff0000"/>
<rect x="709" y="271" width="1" height="14" fill="#000"/>
<rect x="707" y="276" width="5" height="6" fill="#000"/>
<rect x="708" y="277" width="3" height="4" fill="#ff0000"/>
<rect x="715" y="271" width="1" height="11" fill="#000"/>
<rect x="713" y="273" width="5" height="4" fill="#000"/>
<rect x="714" y="274" width="3" height="2" fill="#00ff00"/>
<rect x="721" y="270" width="1" height="8" fill="#000"/>
<rect x="719" y="273" width="5" height="3" fill="#000"/>
<rect x="720" y="274" width="3" height="1" fill="#ff0000"/>
<rect x="727" y="271" width="1" height="17" fill="#000"/>
<rect x="725" y="276" width="5" height="9" fill="#000"/>
<rect x="726" y="277" width="3" height="7" fill="#ff0000"/>
<rect x="733" y="279" width="1" height="14" fill="#000"/>
<rect x="731" y="283" width="5" height="9" fill="#000"/>
<rect x="732" y="284" width="3" height="7" fill="#ff0000"/>
<rect x="739" y="285" width="1" height="12" fill="#000"/>
<rect x="737" y="291" width="5" height="3" fill="#000"/>
<rect x="738" y="292" width="3" height="1" fill="#00ff00"/>
<rect x="745" y="278" width="1" height="11" fill="#000"/>
<rect x="743" y="281" width="5" height="7" fill="#000"/>
<rect x="744" y="282" width="3" height="5" fill="#ff0000"/>
<rect x="751" y="271" width="1" height="34" fill="#000"/>
<rect x="749" y="272" width="5" height="27" fill="#000"/>
<rect x="750" y="273" width="3" height="25" fill="#00ff00"/>
<rect x="757" y="251" width="1" height="26" fill="#000"/>
<rect x="755" y="253" width="5" height="9" fill="#000"/>
<rect x="756" y="254" width="3" height="7" fill="#00ff00"/>
<rect x="763" y="223" width="1" height="19" fill="#000"/>
<rect x="761" y="223" width="5" height="18" fill="#000"/>
<rect x="762" y="224" width="3" height="16" fill="#00ff00"/>
<rect x="769" y="199" width="1" height="36" fill="#000"/>
<rect x="767" y="203" width="5" height="21" fill="#000"/>
<rect x="768" y="204" width="3" height="19" fill="#ff0000"/>
<rect x="775" y="207" width="1" height="18" fill="#000"/>
<rect x="773" y="211" width="5" height="4" fill="#000"/>
<rect x="774" y="212" width="3" height="2" fill="#00ff00"/>
<rect x="781" y="204" width="1" height="24" fill="#000"/>
<rect x="779" y="205" width="5" height="15" fill="#000"/>
<rect x="780" y="206" width="3" height="13" fill="#ff0000"/>
<rect x="787" y="239" width="1" height="26" fill="#000"/>
<rect x="785" y="241" width="5" height="18" fill="#000"/>
<rect x="786" y="242" width="3" height="16" fill="#00ff00"/>
<rect x="793" y="214" width="1" height="20" fill="#000"/>
<rect x="791" y="227" width="5" height="3" fill="#000"/>
<rect x="792" y="228" width="3" height="1" fill="#ff0000"/>
<rect x="799" y="204" width="1" height="34" fill="#000"/>
<rect x="797" y="211" width="5" height="7" fill="#000"/>
<rect x="798" y="212" width="3" height="5" fill="#00ff00"/>
<rect x="805" y="173" width="1" height="52" fill="#000"/>
<rect x="803" y="182" width="5" height="29" fill="#000"/>
<rect x="804" y="183" width="3" height="27" fill="#00ff00"/>
<rect x="811" y="169" width="1" height="21" fill="#000"/>
<rect x="809" y="172" width="5" height="2" fill="#000"/>
<rect x="817" y="170" width="1" height="24" fill="#000"/>
<rect x="815" y="179" width="5" height="12" fill="#000"/>
<rect x="816" y="180" width="3" height="10" fill="#ff0000"/>
<rect x="823" y="198" width="1" height="36" fill="#000"/>
<rect x="821" y="198" width="5" height="29" fill="#000"/>
<rect x="822" y="199" width="3" height="27" fill="#ff0000"/>
<rect x="829" y="227" width="1" height="25" fill="#000"/>
<rect x="827" y="232" width="5" height="9" fill="#000"/>
<rect x="828" y="233" width="3" height="7" fill="#00ff00"/>
<rect x="835" y="215" width="1" height="30" fill="#000"/>
<rect x="833" y="221" width="5" height="5" fill="#000"/>
<rect x="834" y="222" width="3" height="3" fill="#ff0000"/>
<rect x="841" y="189" width="1" height="30" fill="#000"/>
<rect x="839" y="191" width="5" height="25" fill="#000"/>
<rect x="840" y="192" width="3" height="23" fill="#00ff00"/>
<rect x="847" y="186" width="1" height="14" fill="#000"/>
<rect x="845" y="188" width="5" height="2" fill="#000"/>
<rect x="853" y="162" width="1" height="22" fill="#000"/>
<rect x="851" y="172" width="5" height="12" fill="#000"/>
<rect x="852" y="173" width="3" height="10" fill="#00ff00"/>
<rect x="859" y="161" width="1" height="18" fill="#000"/>
<rect x="857" y="165" width="5" height="1" fill="#000"/>
<rect x="865" y="158" width="1" height="18" fill="#000"/>
<rect x="863" y="164" width="5" height="11" fill="#000"/>
<rect x="864" y="165" width="3" height="9" fill="#ff0000"/>
<rect x="871" y="167" width="1" height="14" fill="#000"/>
<rect x="869" y="167" width="5" height="1" fill="#000"/>
<rect x="877" y="165" width="1" height="18" fill="#000"/>
<rect x="875" y="172" width="5" height="6" fill="#000"/>
<rect x="876" y="173" width="3" height="4" fill="#ff0000"/>
<rect x="883" y="185" width="1" height="15" fill="#000"/>
<rect x="881" y="185" width="5" height="8" fill="#000"/>
<rect x="882" y="186" width="3" height="6" fill="#ff0000"/>
<rect x="889" y="190" width="1" height="25" fill="#000"/>
<rect x="887" y="191" width="5" height="8" fill="#000"/>
<rect x="888" y="192" width="3" height="6" fill="#00ff00"/>
<rect x="895" y="172" width="1" height="22" fill="#000"/>
<rect x="893" y="185" width="5" height="4" fill="#000"/>
<rect x="894" y="186" width="3" height="2" fill="#ff0000"/>
<rect x="901" y="171" width="1" height="14" fill="#000"/>
<rect x="899" y="179" width="5" height="5" fill="#000"/>
<rect x="900" y="180" width="3" height="3" fill="#00ff00"/>
<rect x="907" y="166" width="1" height="19" fill="#000"/>
<rect x="905" y="174" width="5" height="7" fill="#000"/>
<rect x="906" y="175" width="3" height="5" fill="#ff0000"/>
<rect x="913" y="172" width="1" height="17" fill="#000"/>
<rect x="911" y="177" width="5" height="9" fill="#000"/>
<rect x="912" y="178" width="3" height="7" fill="#ff0000"/>
<rect x="919" y="156" width="1" height="36" fill="#000"/>
<rect x="917" y="181" width="5" height="9" fill="#000"/>
<rect x="918" y="182" width="3" height="7" fill="#ff0000"/>
<rect x="925" y="187" width="1" height="14" fill="#000"/>
<rect x="923" y="188" width="5" height="6" fill="#000"/>
<rect x="924" y="189" width="3" height="4" fill="#00ff00"/>
<rect x="931" y="153" width="1" height="29" fill="#000"/>
<rect x="929" y="156" width="5" height="25" fill="#000"/>
<rect x="930" y="157" width="3" height="23" fill="#00ff00"/>
<rect x="937" y="143" width="1" height="17" fill="#000"/>
<rect x="935" y="145" width="5" height="5" fill="#000"/>
<rect x="936" y="146" width="3" height="3" fill="#ff0000"/>
<rect x="943" y="149" width="1" height="17" fill="#000"/>
<rect x="941" y="153" width="5" height="2" fill="#000"/>
<rect x="949" y="140" width="1" height="17" fill="#000"/>
<rect x="947" y="146" width="5" height="7" fill="#000"/>
<rect x="948" y="147" width="3" height="5" fill="#ff0000"/>
<rect x="955" y="130" width="1" height="15" fill="#000"/>
<rect x="953" y="133" width="5" height="7" fill="#000"/>
<rect x="954" y="134" width="3" height="5" fill="#00ff00"/>
<rect x="961" y="130" width="1" height="14" fill="#000"/>
<rect x="959" y="133" width="5" height="6" fill="#000"/>
<rect x="960" y="134" width="3" height="4" fill="#ff0000"/>
<rect x="967" y="135" width="1" height="26" fill="#000"/>
<rect x="965" y="136" width="5" height="22" fill="#000"/>
<rect x="966" y="137" width="3" height="20" fill="#ff0000"/>
<rect x="973" y="155" width="1" height="12" fill="#000"/>
<rect x="971" y="155" width="5" height="9" fill="#000"/>
<rect x="972" y="156" width="3" height="7" fill="#ff0000"/>
<rect x="979" y="142" width="1" height="34" fill="#000"/>
<rect x="977" y="145" width="5" height="16" fill="#000"/>
<rect x="978" y="146" width="3" height="14" fill="#00ff00"/>
<rect x="985" y="145" width="1" height="54" fill="#000"/>
<rect x="983" y="146" width="5" height="49" fill="#000"/>
<rect x="984" y="147" width="3" height="47" fill="#ff0000"/>
<rect x="991" y="188" width="1" height="37" fill="#000"/>
<rect x="989" y="197" width="5" height="19" fill="#000"/>
<rect x="990" y="198" width="3" height="17" fill="#ff0000"/>
<rect x="997" y="223" width="1" height="25" fill="#000"/>
<rect x="995" y="229" width="5" height="5" fill="#000"/>
<rect x="996" y="230" width="3" height="3" fill="#00ff00"/>
<rect x="1003" y="223" width="1" height="17" fill="#000"/>
<rect x="1001" y="225" width="5" height="13" fill="#000"/>
<rect x="1002" y="226" width="3" height="11" fill="#ff0000"/>
<rect x="1009" y="222" width="1" height="16" fill="#000"/>
<rect x="1007" y="233" width="5" height="2" fill="#000"/>
<rect x="1015" y="228" width="1" height="23" fill="#000"/>
<rect x="1013" y="231" width="5" height="1" fill="#000"/>
<rect x="1021" y="217" width="1" height="29" fill="#000"/>
<rect x="1019" y="232" width="5" height="11" fill="#000"/>
<rect x="1020" y="233" width="3" height="9" fill="#ff0000"/>
<rect x="1027" y="248" width="1" height="15" fill="#000"/>
<rect x="1025" y="249" width="5" height="1" fill="#000"/>
<rect x="1033" y="234" width="1" height="16" fill="#000"/>
<rect x="1031" y="240" width="5" height="10" fill="#000"/>
<rect x="1032" y="241" width="3" height="8" fill="#00ff00"/>
<rect x="1039" y="226" width="1" height="28" fill="#000"/>
<rect x="1037" y="227" width="5" height="13" fill="#000"/>
<rect x="1038" y="228" width="3" height="11" fill="#00ff00"/>
<rect x="1045" y="219" width="1" height="49" fill="#000"/>
<rect x="1043" y="225" width="5" height="35" fill="#000"/>
<rect x="1044" y="226" width="3" height="33" fill="#ff0000"/>
<rect x="1051" y="261" width="1" height="22" fill="#000"/>
<rect x="1049" y="264" width="5" height="4" fill="#000"/>
<rect x="1050" y="265" width="3" height="2" fill="#ff0000"/>
<rect x="1057" y="284" width="1" height="27" fill="#000"/>
<rect x="1055" y="284" width="5" height="24" fill="#000"/>
<rect x="1056" y="285" width="3" height="22" fill="#ff0000"/>
<rect x="1063" y="293" width="1" height="25" fill="#000"/>
<rect x="1061" y="299" width="5" height="10" fill="#000"/>
<rect x="1062" y="300" width="3" height="8" fill="#ff0000"/>
<rect x="1069" y="296" width="1" height="26" fill="#000"/>
<rect x="1067" y="307" width="5" height="15" fill="#000"/>
<rect x="1068" y="308" width="3" height="13" fill="#ff0000"/>
<rect x="1075" y="317" width="1" height="23" fill="#000"/>
<rect x="1073" y="328" width="5" height="3" fill="#000"/>
<rect x="1074" y="329" width="3" height="1" fill="#ff0000"/>
<rect x="1081" y="295" width="1" height="24" fill="#000"/>
<rect x="1079" y="305" width="5" height="14" fill="#000"/>
<rect x="1080" y="306" width="3" height="12" fill="#00ff00"/>
<rect x="1087" y="294" width="1" height="15" fill="#000"/>
<rect x="1085" y="300" width="5" height="2" fill="#000"/>
<rect x="1093" y="281" width="1" height="16" fill="#000"/>
<rect x="1091" y="281" width="5" height="10" fill="#000"/>
<rect x="1092" y="282" width="3" height="8" fill="#00ff00"/>
<rect x="1099" y="282" width="1" height="25" fill="#000"/>
<rect x="1097" y="286" width="5" height="16" fill="#000"/>
<rect x="1098" y="287" width="3" height="14" fill="#ff0000"/>
<rect x="1105" y="289" width="1" height="19" fill="#000"/>
<rect x="1103" y="295" width="5" height="12" fill="#000"/>
<rect x="1104" y="296" width="3" height="10" fill="#00ff00"/>
<rect x="1111" y="286" width="1" height="18" fill="#000"/>
<rect x="1109" y="289" width="5" height="3" fill="#000"/>
<rect x="1110" y="290" width="3" height="1" fill="#ff0000"/>
<rect x="1117" y="278" width="1" height="17" fill="#000"/>
<rect x="1115" y="279" width="5" height="10" fill="#000"/>
<rect x="1116" y="280" width="3" height="8" fill="#00ff00"/>
<rect x="1123" y="285" width="1" height="13" fill="#000"/>
<rect x="1121" y="288" width="5" height="2" fill="#000"/>
<rect x="1129" y="283" width="1" height="12" fill="#000"/>
<rect x="1127" y="285" width="5" height="9" fill="#000"/>
<rect x="1128" y="286" width="3" height="7" fill="#00ff00"/>
<rect x="1135" y="271" width="1" height="14" fill="#000"/>
<rect x="1133" y="273" width="5" height="9" fill="#000"/>
<rect x="1134" y="274" width="3" height="7" fill="#00ff00"/>
<rect x="1141" y="264" width="1" height="7" fill="#000"/>
<rect x="1139" y="264" width="5" height="4" fill="#000"/>
<rect x="1140" y="265" width="3" height="2" fill="#00ff00"/>
<rect x="1147" y="252" width="1" height="20" fill="#000"/>
<rect x="1145" y="257" width="5" height="12" fill="#000"/>
<rect x="1146" y="258" width="3" height="10" fill="#ff0000"/>
<rect x="1153" y="262" width="1" height="21" fill="#000"/>
<rect x="1151" y="269" width="5" height="9" fill="#000"/>
<rect x="1152" y="270" width="3" height="7" fill="#ff0000"/>
<rect x="1159" y="249" width="1" height="29" fill="#000"/>
<rect x="1157" y="253" width="5" height="25" fill="#000"/>
<rect x="1158" y="254" width="3" height="23" fill="#00ff00"/>
<rect x="1165" y="258" width="1" height="9" fill="#000"/>
<rect x="1163" y="259" width="5" height="6" fill="#000"/>
<rect x="1164" y="260" width="3" height="4" fill="#ff0000"/>
<rect x="1171" y="257" width="1" height="9" fill="#000"/>
<rect x="1169" y="257" width="5" height="6" fill="#000"/>
<rect x="1170" y="258" width="3" height="4" fill="#ff0000"/>
<rect x="1177" y="228" width="1" height="44" fill="#000"/>
<rect x="1175" y="235" width="5" height="33" fill="#000"/>
<rect x="1176" y="236" width="3" height="31" fill="#00ff00"/>
<rect x="1183" y="220" width="1" height="21" fill="#000"/>
<rect x="1181" y="226" width="5" height="10" fill="#000"/>
<rect x="1182" y="227" width="3" height="8" fill="#ff0000"/>
<rect x="1189" y="239" width="1" height="21" fill="#000"/>
<rect x="1187" y="239" width="5" height="21" fill="#000"/>
<rect x="1188" y="240" width="3" height="19" fill="#ff0000"/>
<rect x="1195" y="266" width="1" height="11" fill="#000"/>
<rect x="1193" y="269" width="5" height="2" fill="#000"/>
<rect x="1201" y="285" width="1" height="25" fill="#000"/>
<rect x="1199" y="289" width="5" height="17" fill="#000"/>
<rect x="1200" y="290" width="3" height="15" fill="#ff0000"/>
<rect x="1207" y="302" width="1" height="25" fill="#000"/>
<rect x="1205" y="305" width="5" height="17" fill="#000"/>
<rect x="1206" y="306" width="3" height="15" fill="#ff0000"/>
<rect x="1213" y="309" width="1" height="17" fill="#000"/>
<rect x="1211" y="313" width="5" height="2" fill="#000"/>
<rect x="1219" y="320" width="1" height="17" fill="#000"/>
<rect x="1217" y="324" width="5" height="9" fill="#000"/>
<rect x="1218" y="325" width="3" height="7" fill="#ff0000"/>
<rect x="1225" y="325" width="1" height="14" fill="#000"/>
<rect x="1223" y="333" width="5" height="2" fill="#000"/>
<rect x="1231" y="316" width="1" height="16" fill="#000"/>
<rect x="1229" y="324" width="5" height="3" fill="#000"/>
<rect x="1230" y="325" width="3" height="1" fill="#00ff00"/>
</g>
<path d="M597.5 329.5L1232 332.4" stroke="#000" stroke-width="3" fill="none" shape-rendering="auto"/>
<rect x="1238" y="317" width="31" height="12" fill="#ffff00"/>
<g font-family="Liberation Sans, Arial, sans-serif" text-rendering="geometricPrecision">
<text transform="translate(35.6,30) scale(0.975,1)" font-size="31.5" fill="#808080" font-weight="bold">URA</text>
<text transform="translate(131.7,30) scale(0.97,1)" font-size="10.7" fill="#808080" stroke="#808080" stroke-width="0.2">Jun 21</text>
<text transform="translate(181.7,30) scale(0.998,1)" font-size="10.7" fill="#808080" stroke="#808080" stroke-width="0.2">O:19.24</text>
<text transform="translate(224.8,30) scale(0.998,1)" font-size="10.7" fill="#808080" stroke="#808080" stroke-width="0.2">H:19.76</text>
<text transform="translate(268.4,30) scale(0.998,1)" font-size="10.7" fill="#808080" stroke="#808080" stroke-width="0.2">L:19.02</text>
<text transform="translate(309.8,30) scale(0.998,1)" font-size="10.7" fill="#808080" stroke="#808080" stroke-width="0.2">C:19.37</text>
<text transform="translate(365.5,30) scale(0.998,1)" font-size="10.7" fill="#808080" stroke="#808080" stroke-width="0.2">Vol:1.07M</text>
<text transform="translate(1221.8,30) scale(0.952,1)" font-size="14" fill="#0a960a" font-weight="bold" text-anchor="end">+0.51 (2.70%)</text>
<text transform="translate(1240,58) scale(0.965,1)" font-size="11" fill="#828282" stroke="#828282" stroke-width="0.25">32.00</text>
<text transform="translate(1240,100) scale(0.965,1)" font-size="11" fill="#828282" stroke="#828282" stroke-width="0.25">30.00</text>
<text transform="translate(1240,143) scale(0.965,1)" font-size="11" fill="#828282" stroke="#828282" stroke-width="0.25">28.00</text>
<text transform="translate(1240,186) scale(0.965,1)" font-size="11" fill="#828282" stroke="#828282" stroke-width="0.25">26.00</text>
<text transform="translate(1240,228) scale(0.965,1)" font-size="11" fill="#828282" stroke="#828282" stroke-width="0.25">24.00</text>
<text transform="translate(1240,271) scale(0.965,1)" font-size="11" fill="#828282" stroke="#828282" stroke-width="0.25">22.00</text>
<text transform="translate(1240,314) scale(0.965,1)" font-size="11" fill="#828282" stroke="#828282" stroke-width="0.25">20.00</text>
<text transform="translate(1240,356) scale(0.965,1)" font-size="11" fill="#828282" stroke="#828282" stroke-width="0.25">18.00</text>
<text transform="translate(151.1,386) scale(0.98,1)" font-size="11" fill="#828282" text-anchor="middle" stroke="#828282" stroke-width="0.25">Oct</text>
<text transform="translate(277.1,386) scale(0.98,1)" font-size="11" fill="#828282" text-anchor="middle" stroke="#828282" stroke-width="0.25">Nov</text>
<text transform="translate(403.1,386) scale(0.98,1)" font-size="11" fill="#828282" text-anchor="middle" stroke="#828282" stroke-width="0.25">Dec</text>
<text transform="translate(535.1,386) scale(0.98,1)" font-size="11" fill="#828282" text-anchor="middle" stroke="#828282" stroke-width="0.25">2022</text>
<text transform="translate(655.1,386) scale(0.98,1)" font-size="11" fill="#828282" text-anchor="middle" stroke="#828282" stroke-width="0.25">Feb</text>
<text transform="translate(769.1,386) scale(0.98,1)" font-size="11" fill="#828282" text-anchor="middle" stroke="#828282" stroke-width="0.25">Mar</text>
<text transform="translate(907.1,386) scale(0.98,1)" font-size="11" fill="#828282" text-anchor="middle" stroke="#828282" stroke-width="0.25">Apr</text>
<text transform="translate(1027.1,386) scale(0.98,1)" font-size="11" fill="#828282" text-anchor="middle" stroke="#828282" stroke-width="0.25">May</text>
<text transform="translate(1153.1,386) scale(0.98,1)" font-size="11" fill="#828282" text-anchor="middle" stroke="#828282" stroke-width="0.25">Jun</text>
<text transform="translate(33,313) scale(0.97,1)" font-size="11" fill="#828282" text-anchor="end" stroke="#828282" stroke-width="0.25">10M</text>
<text transform="translate(33,325) scale(0.97,1)" font-size="11" fill="#828282" text-anchor="end" stroke="#828282" stroke-width="0.25">8M</text>
<text transform="translate(33,337) scale(0.97,1)" font-size="11" fill="#828282" text-anchor="end" stroke="#828282" stroke-width="0.25">6M</text>
<text transform="translate(33,349) scale(0.97,1)" font-size="11" fill="#828282" text-anchor="end" stroke="#828282" stroke-width="0.25">4M</text>
<text transform="translate(33,361) scale(0.97,1)" font-size="11" fill="#828282" text-anchor="end" stroke="#828282" stroke-width="0.25">2M</text>
<text transform="translate(1240,327) scale(0.96,1)" font-size="11" fill="#787858" stroke="#787858" stroke-width="0.3">19.37</text>
<text transform="translate(28.1,191.6) scale(1.0,1) rotate(-90)" font-size="13.5" fill="#dbdbdb" font-weight="bold" stroke="#dbdbdb" stroke-width="0.4">DAILY</text>
</g>
</svg>
</body></html>
